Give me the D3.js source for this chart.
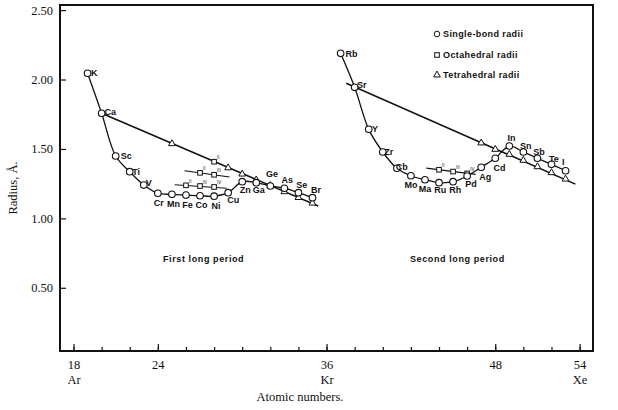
<!DOCTYPE html>
<html>
<head>
<meta charset="utf-8">
<script src="https://cdn.jsdelivr.net/npm/d3@7"></script>
<style>
body { margin: 0; background: #fff; }
.lab { font-family: "Liberation Sans", Arial, sans-serif; font-weight: bold; font-size: 9px; fill: #111; }
.ax { font-family: "Liberation Serif", "Times New Roman", serif; font-size: 12.5px; fill: #111; }
</style>
</head>
<body>
<div id="chart"></div>
<script>
// ---- data ----
// single-bond radii, first long period
var p1Symbols = ["K","Ca","Sc","Ti","V","Cr","Mn","Fe","Co","Ni","Cu","Zn","Ga","Ge","As","Se","Br"];
var p1Numbers = [19,20,21,22,23,24,25,26,27,28,29,30,31,32,33,34,35];
var p1Single  = [2.045,1.757,1.449,1.336,1.240,1.181,1.173,1.168,1.163,1.160,1.185,1.264,1.257,1.233,1.217,1.185,1.149];
// single-bond radii, second long period
var p2Symbols = ["Rb","Sr","Y","Zr","Cb","Mo","Ma","Ru","Rh","Pd","Ag","Cd","In","Sn","Sb","Te","I"];
var p2Numbers = [37,38,39,40,41,42,43,44,45,46,47,48,49,50,51,52,53];
var p2Single  = [2.189,1.944,1.641,1.478,1.361,1.307,1.278,1.257,1.264,1.305,1.368,1.433,1.521,1.478,1.433,1.389,1.343];

// tetrahedral radii
var tetNumbers = [25,29,30,31,32,33,34,35, 47,48,49,50,51,52,53];
var tetValues  = [1.538,1.364,1.319,1.277,1.236,1.192,1.150,1.110, 1.543,1.497,1.461,1.418,1.372,1.329,1.283];
// straight lines through the tetrahedral radii [atomic number, radius]
var tetLine1 = [[20,1.757],[35.4,1.089]];
var tetLine2 = [[37.4,1.973],[53.7,1.247]];

// octahedral radii
var octNumbers = [26,27,28, 27,28, 28, 44,45,46];
var octValues  = [1.238,1.233,1.226, 1.328,1.314, 1.408, 1.350,1.337,1.324];
var octStates  = ["II","III","IV", "II","III", "II", "II","III","IV"];
var octLines = [
  [[25.2,1.242],[28.9,1.217]],
  [[25.9,1.343],[29.1,1.298]],
  [[43.1,1.362],[46.6,1.317]]
];

var xTicks = [18,24,36,48,54];
var xTickSymbols = ["Ar","","Kr","","Xe"];
var yTicks = [0.50,1.00,1.50,2.00,2.50];

// label placement [dx, dy, anchor]
var labelPos = {
  K:[3.5,3,"start"], Ca:[3,2,"start"], Sc:[5,3.3,"start"], Ti:[2.5,3.3,"start"], V:[2,0.5,"start"],
  Cr:[1,12.5,"middle"], Mn:[1.5,12.5,"middle"], Fe:[1.5,12.5,"middle"], Co:[1.5,12.5,"middle"], Ni:[2,12.5,"middle"],
  Cu:[5,10.6,"middle"], Zn:[3,11,"middle"], Ga:[2.5,10.6,"middle"],
  Ge:[1.6,-8.7,"middle"], As:[2.8,-5,"middle"], Se:[3.2,-4.4,"middle"], Br:[3.5,-4.4,"middle"],
  Rb:[5,3.3,"start"], Sr:[2.4,1,"start"], Y:[3.2,3,"start"], Zr:[1.5,3,"start"], Cb:[-1,1.5,"start"],
  Mo:[0,12.6,"middle"], Ma:[0,12,"middle"], Ru:[1.3,10.6,"middle"], Rh:[2.2,10.9,"middle"], Pd:[3.8,10.6,"middle"],
  Ag:[4,12.7,"middle"], Cd:[4.3,12.3,"middle"],
  In:[2.3,-5.4,"middle"], Sn:[2.5,-2.7,"middle"], Sb:[1.7,-3.3,"middle"], Te:[2.4,-2.7,"middle"], I:[-2.4,-5.7,"middle"]
};

var W = 618, H = 410;
var frame = { left: 60, right: 593, top: 5, bottom: 351 };

var svg = d3.select("#chart").append("svg")
    .attr("width", W).attr("height", H);

var x = d3.scaleLinear().domain([18, 54]).range([73.5, 579.6]);
var y = d3.scaleLinear().domain([0, 2.5]).range([357.2, 10.1]);

// frame
svg.append("rect")
    .attr("x", frame.left).attr("y", frame.top)
    .attr("width", frame.right - frame.left).attr("height", frame.bottom - frame.top)
    .attr("fill", "none").attr("stroke", "#111").attr("stroke-width", 2);

// y axis: minor ticks every 0.1, labelled every 0.5
var gy = svg.append("g").attr("transform", "translate(" + frame.left + ",0)");
gy.call(d3.axisLeft(y).tickValues(d3.range(1, 26).map(function (d) { return d / 10; }))
    .tickSize(-3).tickFormat(""));
gy.call(d3.axisLeft(y).tickValues(yTicks).tickSize(-6).tickPadding(7).tickFormat(d3.format(".2f")));
gy.selectAll(".domain").remove();
gy.selectAll("line").attr("stroke", "#111").attr("stroke-width", 1.2);
gy.selectAll("text").attr("class", "ax").attr("font-family", null).attr("font-size", null);

// x axis: ticks every 2, labelled ones taller
var gx = svg.append("g").attr("transform", "translate(0," + frame.bottom + ")");
gx.call(d3.axisBottom(x).tickValues(d3.range(18, 55, 2)).tickSize(-4).tickFormat(""));
var gx2 = svg.append("g").attr("transform", "translate(0," + frame.bottom + ")");
gx2.call(d3.axisBottom(x).tickValues(xTicks).tickSize(-7).tickPadding(9).tickFormat(d3.format("d")));
gx.selectAll(".domain").remove();
gx2.selectAll(".domain").remove();
svg.selectAll("g.tick line").attr("stroke", "#111").attr("stroke-width", 1.2);
gx2.selectAll("text").attr("class", "ax").attr("font-family", null).attr("font-size", null);
gx2.selectAll(".tick").append("text")
    .attr("class", "ax")
    .attr("text-anchor", "middle")
    .attr("y", 33)
    .text(function (d) { return xTickSymbols[xTicks.indexOf(d)]; });

svg.append("text").attr("class", "ax")
    .attr("x", 300).attr("y", 401).attr("text-anchor", "middle")
    .text("Atomic numbers.");
svg.append("text").attr("class", "ax")
    .attr("transform", "translate(17,188) rotate(-90)")
    .attr("text-anchor", "middle")
    .text("Radius, \u00c5.");

// lines
var line = d3.line().x(function (d) { return x(d[0]); }).y(function (d) { return y(d[1]); });
var curve = d3.line().curve(d3.curveCatmullRom.alpha(0.5))
    .x(function (d) { return x(d[0]); }).y(function (d) { return y(d[1]); });

var p1 = p1Numbers.map(function (n, i) { return [n, p1Single[i], p1Symbols[i]]; });
var p2 = p2Numbers.map(function (n, i) { return [n, p2Single[i], p2Symbols[i]]; });

[tetLine1, tetLine2].forEach(function (l) {
  svg.append("path").attr("d", line(l)).attr("fill", "none").attr("stroke", "#111").attr("stroke-width", 1.5);
});
octLines.forEach(function (l) {
  svg.append("path").attr("d", line(l)).attr("fill", "none").attr("stroke", "#111").attr("stroke-width", 1.2);
});
[p1, p2].forEach(function (p) {
  svg.append("path").attr("d", curve(p)).attr("fill", "none").attr("stroke", "#111").attr("stroke-width", 1.3);
});

// markers
var tri = d3.symbol().type(d3.symbolTriangle).size(20);
svg.append("g").selectAll("path")
    .data(tetNumbers.map(function (n, i) { return [n, tetValues[i]]; }))
    .enter().append("path")
    .attr("d", tri)
    .attr("transform", function (d) { return "translate(" + x(d[0]) + "," + y(d[1]) + ")"; })
    .attr("fill", "#fff").attr("stroke", "#111").attr("stroke-width", 1);

var oct = octNumbers.map(function (n, i) { return [n, octValues[i], octStates[i]]; });
svg.append("g").selectAll("rect")
    .data(oct).enter().append("rect")
    .attr("x", function (d) { return x(d[0]) - 2.3; })
    .attr("y", function (d) { return y(d[1]) - 2.3; })
    .attr("width", 4.6).attr("height", 4.6)
    .attr("fill", "#fff").attr("stroke", "#111").attr("stroke-width", 1);
svg.append("g").selectAll("text")
    .data(oct).enter().append("text")
    .attr("x", function (d) { return x(d[0]) + 3; })
    .attr("y", function (d) { return y(d[1]) - 2.5; })
    .attr("font-family", "Liberation Sans, sans-serif").attr("font-size", 4.5).attr("fill", "#111")
    .text(function (d) { return d[2]; });

var singles = p1.concat(p2);
svg.append("g").selectAll("circle")
    .data(singles).enter().append("circle")
    .attr("cx", function (d) { return x(d[0]); })
    .attr("cy", function (d) { return y(d[1]); })
    .attr("r", 3.3)
    .attr("fill", "#fff").attr("stroke", "#111").attr("stroke-width", 1.1);

svg.append("g").selectAll("text")
    .data(singles).enter().append("text")
    .attr("class", "lab")
    .attr("x", function (d) { return x(d[0]) + labelPos[d[2]][0]; })
    .attr("y", function (d) { return y(d[1]) + labelPos[d[2]][1]; })
    .attr("text-anchor", function (d) { return labelPos[d[2]][2]; })
    .text(function (d) { return d[2]; });

// period captions
svg.append("text").attr("class", "lab").attr("x", 163).attr("y", 261.5)
    .attr("letter-spacing", 0.6).text("First long period");
svg.append("text").attr("class", "lab").attr("x", 410).attr("y", 261.5)
    .attr("letter-spacing", 0.6).text("Second long period");

// legend
var legend = svg.append("g").attr("transform", "translate(437,0)");
legend.append("circle").attr("cx", 0).attr("cy", 34).attr("r", 2.8)
    .attr("fill", "#fff").attr("stroke", "#111").attr("stroke-width", 1);
legend.append("rect").attr("x", -2.3).attr("y", 52.7).attr("width", 4.6).attr("height", 4.6)
    .attr("fill", "#fff").attr("stroke", "#111").attr("stroke-width", 1);
legend.append("path").attr("d", tri).attr("transform", "translate(0,75)")
    .attr("fill", "#fff").attr("stroke", "#111").attr("stroke-width", 1);
legend.selectAll("text.lab")
    .data(["Single-bond radii", "Octahedral radii", "Tetrahedral radii"])
    .enter().append("text").attr("class", "lab")
    .attr("x", 6).attr("y", function (d, i) { return 37.3 + i * 20.5; })
    .attr("letter-spacing", 0.4)
    .text(function (d) { return d; });
</script>
</body>
</html>
